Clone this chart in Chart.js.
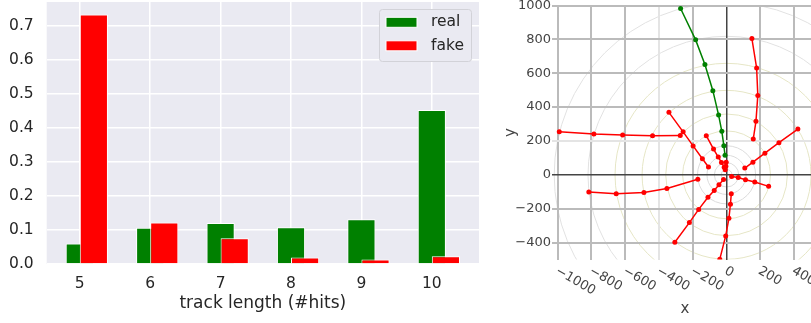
<!DOCTYPE html>
<html lang="en">
<head>
  <meta charset="UTF-8" />
  <title>Track length and event display</title>
  <script src="https://cdn.jsdelivr.net/npm/chart.js"></script>
  <style>
    html, body {
      margin: 0;
      padding: 0;
      background: #fff;
      overflow: hidden;
      width: 811px;
      height: 323px;
    }
    #lengthChart { position: absolute; left: 0; top: 0; }
    #eventChart { position: absolute; left: 482px; top: 0; }
  </style>
</head>
<body>
  <canvas id="lengthChart" width="482" height="323"></canvas>
  <canvas id="eventChart" width="340" height="323"></canvas>
  <script>
    // --- left panel: fraction of tracks per length ---
    const trackLengths = [5, 6, 7, 8, 9, 10];
    const realFrac = [0.060, 0.107, 0.121, 0.108, 0.132, 0.453];
    const fakeFrac = [0.734, 0.122, 0.076, 0.019, 0.013, 0.023];
    const fakeShift = 0.2;
    const fracTicks = [0, 0.1, 0.2, 0.3, 0.4, 0.5, 0.6, 0.7];

    // --- right panel: hits in the transverse plane ---
    const xTicks = [-1000, -800, -600, -400, -200, 0, 200, 400];
    const yTicks = [-400, -200, 0, 200, 400, 600, 800, 1000];

    const realTrackX = [-272, -183, -128, -81, -47, -28, -16, -9];
    const realTrackY = [982, 797, 651, 497, 353, 257, 172, 115];

    const fakeTracksX = [
      [150, 178, 185, 174, 158],
      [-990, -785, -615, -438, -274],
      [-341, -257, -198, -143, -107],
      [-120, -77, -49, -30, -14],
      [-2, -4, -8],
      [422, 310, 227, 156, 108],
      [30, 69, 112, 167, 249],
      [-815, -653, -489, -353, -170],
      [-306, -220, -165, -110, -73, -45, -18],
      [-40, -5, 14, 23, 28]
    ];
    const fakeTracksY = [
      [805, 631, 469, 316, 211],
      [254, 241, 235, 231, 233],
      [369, 254, 171, 95, 46],
      [231, 152, 105, 73, 45],
      [75, 50, 30],
      [270, 190, 128, 75, 40],
      [-10, -16, -29, -42, -68],
      [-101, -112, -104, -81, -26],
      [-398, -282, -204, -133, -92, -58, -28],
      [-498, -361, -257, -173, -112]
    ];

    // detector layer radii
    const pixelLayerR = [32, 72, 116, 172];
    const shortStripR = [260, 360, 500, 660];
    const longStripR = [820, 1020];

    const GREEN = '#008000';
    const RED = '#ff0000';
    const FONT = '"DejaVu Sans", Verdana, sans-serif';

    function minus(v) {
      return String(v).replace('-', '\u2212');
    }

    function zeroPadding(scale) {
      scale.paddingTop = 0;
      scale.paddingBottom = 0;
      scale.paddingLeft = 0;
      scale.paddingRight = 0;
    }

    function fixedTicks(values) {
      return scale => { scale.ticks = values.map(v => ({ value: v })); };
    }

    // seaborn-ish background + framed legend
    const darkgrid = {
      id: 'darkgrid',
      beforeDraw(chart) {
        const { ctx, chartArea: a } = chart;
        ctx.save();
        ctx.fillStyle = '#eaeaf2';
        ctx.fillRect(a.left, a.top, a.right - a.left, a.bottom - a.top);
        ctx.restore();
      },
      afterDraw(chart) {
        const ctx = chart.ctx;
        ctx.save();
        ctx.beginPath();
        ctx.roundRect(379.5, 9.5, 92, 52, 3);
        ctx.fillStyle = '#eaeaf2';
        ctx.fill();
        ctx.strokeStyle = '#d2d2d8';
        ctx.lineWidth = 1;
        ctx.stroke();
        const items = [['real', GREEN, 22.3], ['fake', RED, 45.8]];
        ctx.font = '15.5px ' + FONT;
        ctx.textBaseline = 'middle';
        items.forEach(([label, color, y]) => {
          ctx.fillStyle = color;
          ctx.fillRect(386, y - 5, 31, 10);
          ctx.strokeStyle = '#fff';
          ctx.strokeRect(386, y - 5, 31, 10);
          ctx.fillStyle = '#262626';
          ctx.fillText(label, 431, y);
        });
        ctx.restore();
      }
    };

    new Chart(document.getElementById('lengthChart'), {
      type: 'bar',
      data: {
        datasets: [
          {
            label: 'real',
            data: trackLengths.map((l, i) => ({ x: l, y: realFrac[i] })),
            backgroundColor: GREEN,
            borderColor: '#fff',
            borderWidth: 1,
            grouped: false,
            order: 1
          },
          {
            label: 'fake',
            data: trackLengths.map((l, i) => ({ x: l + fakeShift, y: fakeFrac[i] })),
            backgroundColor: RED,
            borderColor: '#fff',
            borderWidth: 1,
            grouped: false,
            order: 0
          }
        ]
      },
      options: {
        responsive: false,
        devicePixelRatio: 1,
        animation: false,
        categoryPercentage: 2,
        barPercentage: 1,
        layout: { padding: { top: 2, right: 3, left: 0, bottom: 0 } },
        plugins: { legend: { display: false }, tooltip: { enabled: false } },
        scales: {
          x: {
            type: 'linear',
            min: 4.53,
            max: 10.67,
            offset: false,
            border: { display: false },
            grid: { color: '#fff', lineWidth: 1.5, drawTicks: false, offset: false },
            afterBuildTicks: fixedTicks(trackLengths),
            ticks: {
              padding: 10.5,
              color: '#262626',
              font: { family: FONT, size: 15.5 }
            },
            title: {
              display: true,
              text: 'track length (#hits)',
              color: '#262626',
              font: { family: FONT, size: 17 },
              padding: { top: 0, bottom: 9 }
            },
            afterFit(s) { s.height = 59; zeroPadding(s); }
          },
          y: {
            min: 0,
            max: 0.771,
            border: { display: false },
            grid: { color: '#fff', lineWidth: 1.5, drawTicks: false },
            afterBuildTicks: fixedTicks(fracTicks),
            ticks: {
              padding: 13,
              color: '#262626',
              font: { family: FONT, size: 15.5 },
              callback: v => v.toFixed(1)
            },
            afterFit(s) { s.width = 46.7; zeroPadding(s); }
          }
        }
      },
      plugins: [darkgrid]
    });

    // detector circles under the grid, rotated x tick labels on top
    const detector = {
      id: 'detector',
      beforeDraw(chart) {
        const { ctx, chartArea: a, scales: { x, y } } = chart;
        const cx = x.getPixelForValue(0);
        const cy = y.getPixelForValue(0);
        const rings = [
          [pixelLayerR, '#dcdcdc'],
          [shortStripR, '#e6e6c6'],
          [longStripR, '#e2e2e2']
        ];
        ctx.save();
        ctx.beginPath();
        ctx.rect(a.left, a.top, a.right - a.left, a.bottom - a.top);
        ctx.clip();
        ctx.lineWidth = 1;
        rings.forEach(([radii, color]) => {
          ctx.strokeStyle = color;
          radii.forEach(r => {
            const rp = x.getPixelForValue(r) - cx;
            ctx.beginPath();
            ctx.arc(cx, cy, rp, 0, Math.PI * 2);
            ctx.stroke();
          });
        });
        ctx.restore();
      },
      afterDraw(chart) {
        const { ctx, scales: { x } } = chart;
        ctx.save();
        ctx.font = '13px ' + FONT;
        ctx.fillStyle = '#444';
        ctx.textAlign = 'left';
        ctx.textBaseline = 'middle';
        x.ticks.forEach(t => {
          const px = x.getPixelForValue(t.value);
          ctx.save();
          ctx.translate(px - 1.2, 270);
          ctx.rotate(Math.PI / 6);
          ctx.fillText(minus(t.value), 0, 0);
          ctx.restore();
        });
        ctx.restore();
      }
    };

    const lightLines = { x: -400, y: 200 };
    function gridColor(axis) {
      return c => {
        if (!c.tick) return '#bbb';
        if (c.tick.value === 0) return '#444';
        if (c.tick.value === lightLines[axis]) return '#e4e4e4';
        return '#bbb';
      };
    }

    const trackDatasets = [{
      data: realTrackX.map((v, i) => ({ x: v, y: realTrackY[i] })),
      borderColor: GREEN,
      backgroundColor: GREEN,
      showLine: true,
      borderWidth: 1.5,
      pointRadius: 2.5,
      pointBorderWidth: 0
    }];
    fakeTracksX.forEach((xs, k) => {
      trackDatasets.push({
        data: xs.map((v, i) => ({ x: v, y: fakeTracksY[k][i] })),
        borderColor: RED,
        backgroundColor: RED,
        showLine: true,
        borderWidth: 1.5,
        pointRadius: 2.5,
        pointBorderWidth: 0
      });
    });

    new Chart(document.getElementById('eventChart'), {
      type: 'scatter',
      data: { datasets: trackDatasets },
      options: {
        responsive: false,
        devicePixelRatio: 1,
        animation: false,
        layout: { padding: { top: 5.5, right: 4.2, left: 0, bottom: 0 } },
        plugins: { legend: { display: false }, tooltip: { enabled: false } },
        scales: {
          x: {
            type: 'linear',
            min: -1033,
            max: 540,
            border: { display: false },
            grid: {
              color: gridColor('x'),
              lineWidth: c => (c.tick && c.tick.value === 0 ? 1.5 : 2),
              drawTicks: false
            },
            afterBuildTicks: fixedTicks(xTicks),
            ticks: { display: false },
            title: {
              display: true,
              text: 'x',
              color: '#444',
              font: { family: FONT, size: 15 },
              padding: { top: 0, bottom: 5 }
            },
            afterFit(s) { s.height = 63.5; zeroPadding(s); }
          },
          y: {
            type: 'linear',
            min: -500,
            max: 1000,
            border: { display: false },
            grid: {
              color: gridColor('y'),
              lineWidth: c => (c.tick && c.tick.value === 0 ? 1.5 : 2),
              drawTicks: false
            },
            afterBuildTicks: fixedTicks(yTicks),
            ticks: {
              padding: 1,
              color: '#444',
              font: { family: FONT, size: 13 },
              callback: v => minus(v)
            },
            title: {
              display: true,
              text: 'y',
              color: '#444',
              font: { family: FONT, size: 15 },
              padding: { top: 20, bottom: 0 }
            },
            afterFit(s) { s.width = 70; zeroPadding(s); }
          }
        }
      },
      plugins: [detector]
    });
  </script>
</body>
</html>
